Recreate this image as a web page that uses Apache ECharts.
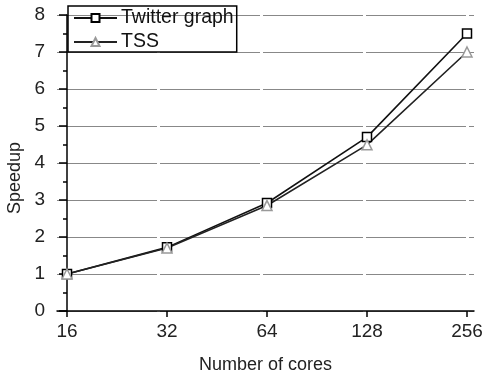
<!DOCTYPE html>
<html><head><meta charset="utf-8">
<script src="https://cdn.jsdelivr.net/npm/echarts@6/dist/echarts.min.js"></script>
<style>html,body{margin:0;padding:0;background:#fff}#c{width:483px;height:373px}</style>
</head><body><div id="c"></div>
<script>
var categories = ['16', '32', '64', '128', '256'];
var twitterValues = [1.0, 1.72, 2.92, 4.7, 7.5];
var tssValues = [1.0, 1.7, 2.85, 4.49, 7.0];
var yTicks = [0, 1, 2, 3, 4, 5, 6, 7, 8];

var idx = categories.map(function (c, i) { return i; });
function pairs(vals) { return vals.map(function (v, i) { return [i, v]; }); }
var font = 'Liberation Sans, Arial, sans-serif';
var chart = echarts.init(document.getElementById('c'));
chart.setOption({
  animation: false,
  grid: { left: 57, right: 9, top: 15, bottom: 62, containLabel: false, outerBoundsMode: 'none' },
  legend: {
    orient: 'vertical', left: 68, top: 6,
    borderColor: '#000', borderWidth: 1.5, borderRadius: 0,
    padding: [2, 3, 0, 5], itemWidth: 43, itemHeight: 10, itemGap: 4,
    textStyle: { fontFamily: font, fontSize: 19.5, color: '#111', padding: [0, 0, 0, -1] },
    data: ['Twitter graph', 'TSS']
  },
  xAxis: {
    type: 'value', min: -0.1, max: 4.07,
    name: 'Number of cores', nameLocation: 'middle', nameGap: 45,
    nameTextStyle: { fontFamily: font, fontSize: 18, color: '#222' },
    axisLine: { lineStyle: { color: '#000', width: 1.5 } },
    axisTick: { show: true, inside: false, length: 6, customValues: idx, lineStyle: { color: '#000', width: 1.5 } },
    axisLabel: { customValues: idx, fontFamily: font, fontSize: 19, color: '#222', margin: 11,
      formatter: function (v) { return categories[Math.round(v)]; } },
    splitLine: { show: false }
  },
  yAxis: {
    type: 'value', min: 0, max: 8, interval: 1,
    name: 'Speedup', nameLocation: 'middle', nameGap: 33, nameRotate: 90,
    nameTextStyle: { fontFamily: font, fontSize: 18, color: '#222', padding: [0, 30, 0, 0] },
    axisLine: { show: true, lineStyle: { color: '#000', width: 1.5 } },
    axisTick: { show: true, inside: false, length: 8, lineStyle: { color: '#000', width: 1.5 } },
    minorTick: { show: true, splitNumber: 2, length: 4, lineStyle: { color: '#000', width: 1.5 } },
    axisLabel: { fontFamily: font, fontSize: 19, color: '#222', margin: 12,
      formatter: function (v) { return yTicks.indexOf(v) >= 0 ? String(v) : ''; } },
    splitLine: { show: true, lineStyle: { color: '#888', width: 1.2, type: [100, 3] } }
  },
  series: [
    { name: 'Twitter graph', type: 'line', data: pairs(twitterValues),
      symbol: 'rect', symbolSize: 9, showAllSymbol: true,
      lineStyle: { color: '#111', width: 1.6 },
      itemStyle: { color: '#fff', borderColor: '#000', borderWidth: 1.5 } },
    { name: 'TSS', type: 'line', data: pairs(tssValues),
      symbol: 'triangle', symbolSize: 10, showAllSymbol: true,
      lineStyle: { color: '#222', width: 1.6 },
      itemStyle: { color: '#fff', borderColor: '#999', borderWidth: 1.5 } }
  ]
});
</script></body></html>
